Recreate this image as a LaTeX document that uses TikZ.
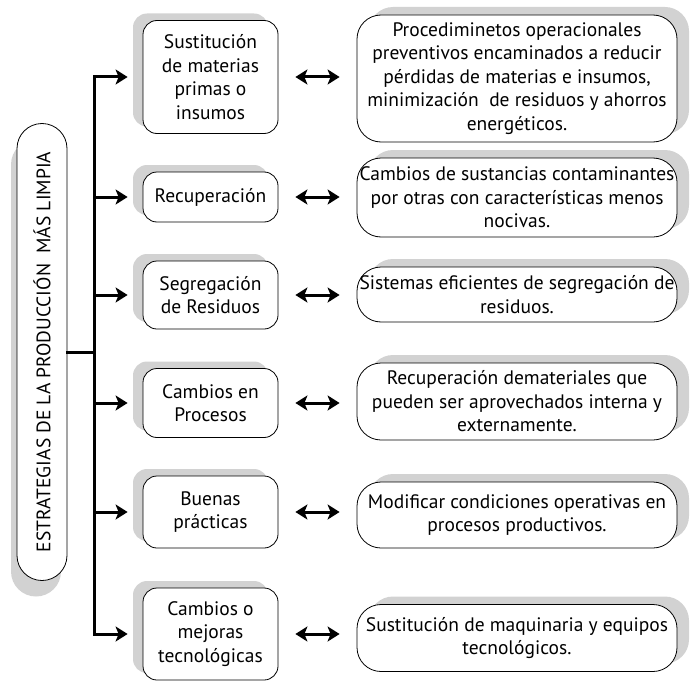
\documentclass[tikz,border=0pt]{standalone}
\usepackage{fontspec}
\setmainfont{PT Sans}
\usetikzlibrary{arrows.meta,shadows}

\definecolor{shadowgray}{RGB}{210,210,210}

\tikzset{
  boxtext/.style={font=\fontsize{19.5}{23.5}\selectfont, align=center, inner sep=1pt},
  leftbox/.style={draw, line width=0.8pt, fill=white, rounded corners=25pt,
    minimum width=50pt, minimum height=457pt, inner sep=0pt,
    font=\fontsize{19.5}{21}\selectfont,
    drop shadow={shadow xshift=-6pt, shadow yshift=-16pt, fill=shadowgray, opacity=1}},
  midbox/.style={boxtext, draw, line width=0.8pt, fill=white, rounded corners=14pt,
    minimum width=135pt,
    drop shadow={shadow xshift=-10pt, shadow yshift=7pt, fill=shadowgray, opacity=1}},
  rightbox/.style={boxtext, draw, line width=0.8pt, fill=white, rounded corners=24pt,
    minimum width=320pt,
    drop shadow={shadow xshift=12pt, shadow yshift=8pt, fill=shadowgray, opacity=1}},
  trunk/.style={line width=3pt, line cap=rect},
  branch/.style={line width=3pt, -{Stealth[length=12pt,width=15pt,inset=3pt]}, shorten >=15pt},
  link/.style={line width=3pt, {Stealth[length=12pt,width=15pt,inset=3pt]}-{Stealth[length=12pt,width=15pt,inset=3pt]},
    shorten <=17pt, shorten >=17pt}
}

\begin{document}
\begin{tikzpicture}[x=1pt,y=-1pt]
    \useasboundingbox (0,0) rectangle (698,682);

    % left title
    \node[leftbox] (lb) at (42,352) {\rotatebox{90}{ESTRATEGIAS DE LA PRODUCCIÓN\ \ MÁS LIMPIA}};

    % strategies
    \node[midbox, minimum height=113pt] (m1) at (210.5,77) {Sustitución\\de materias\\primas o\\insumos};
    \node[midbox, minimum height=50pt] (m2) at (210.5,197) {Recuperación};
    \node[midbox, minimum height=68pt] (m3) at (210.5,295) {Segregación\\de Residuos};
    \node[midbox, minimum height=69pt] (m4) at (210.5,403) {Cambios en\\Procesos};
    \node[midbox, minimum height=72pt] (m5) at (210.5,512) {Buenas\\prácticas};
    \node[midbox, minimum height=92pt] (m6) at (210.5,634) {Cambios o\\mejoras\\tecnológicas};

    % descriptions
    \node[rightbox, minimum height=127pt] (r1) at (517,78.5) {Procediminetos operacionales\\preventivos encaminados a reducir\\pérdidas de materias e insumos,\\minimización\ \ de residuos y ahorros\\energéticos.};
    \node[rightbox, minimum height=79pt] (r2) at (517,197.5) {Cambios de sustancias contaminantes\\por otras con características menos\\nocivas.};
    \node[rightbox, minimum height=55pt] (r3) at (517,294.5) {Sistemas eficientes de segregación de\\residuos.};
    \node[rightbox, minimum height=77pt] (r4) at (517,401.5) {Recuperación demateriales que\\pueden ser aprovechados interna y\\externamente.};
    \node[rightbox, minimum height=66pt] (r5) at (517,515) {Modificar condiciones operativas en\\procesos productivos.};
    \node[rightbox, minimum height=67pt] (r6) at (517,638) {Sustitución de maquinaria y equipos\\tecnológicos.};

    % tree
    \coordinate (fork) at (94,352);
    \draw[trunk] (lb.east) -- (fork);
    \draw[trunk] (fork |- m1.west) -- (fork |- m6.west);
    \foreach \i in {1,...,6}
        \draw[branch] (fork |- m\i.west) -- (m\i.west);

    % double arrows
    \foreach \i in {1,...,6}
        \draw[link] (m\i.east) -- (m\i.east -| r\i.west);
\end{tikzpicture}
\end{document}
